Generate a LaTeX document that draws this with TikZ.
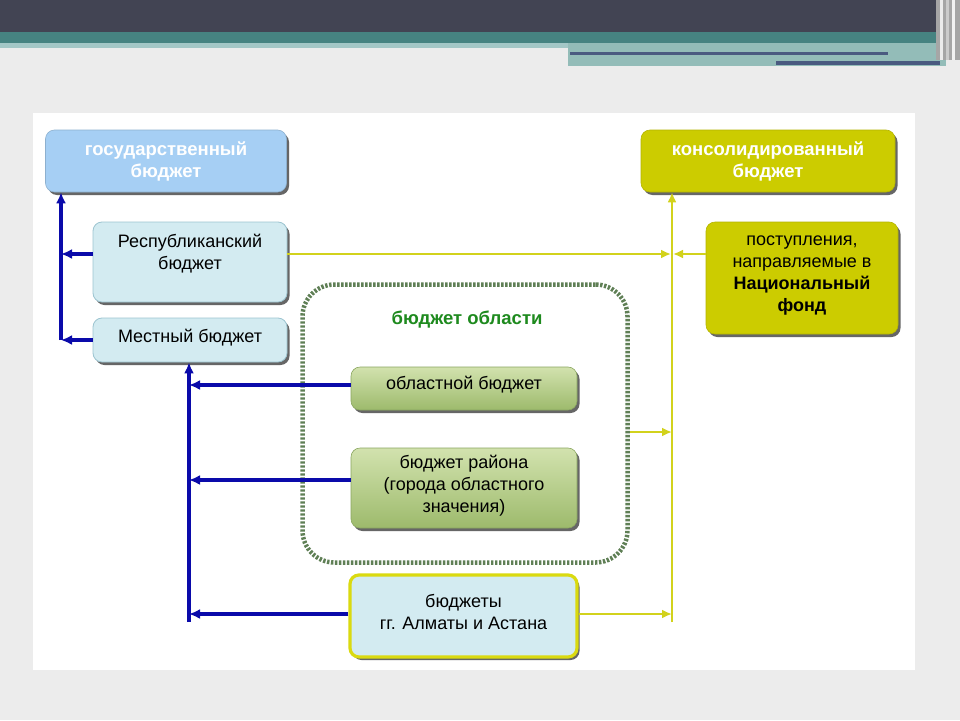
\documentclass[tikz,border=0pt]{standalone}
\usepackage{fontspec}
\setmainfont{Liberation Sans}
\usetikzlibrary{arrows.meta,shadows}
\definecolor{topdark}{HTML}{424453}
\definecolor{teal1}{HTML}{468381}
\definecolor{teal2}{HTML}{A3C7C6}
\definecolor{teal3}{HTML}{93BCB8}
\definecolor{navyline}{HTML}{4A5A80}
\definecolor{bgdot}{HTML}{ECECEC}
\definecolor{gosblue}{HTML}{A6CFF4}
\definecolor{lightcyan}{HTML}{D3EBF1}
\definecolor{cyanedge}{HTML}{9CC4D0}
\definecolor{olive}{HTML}{CCCC00}
\definecolor{oliveedge}{HTML}{B5B500}
\definecolor{yline}{HTML}{D2D21C}
\definecolor{bline}{HTML}{0A0AAA}
\definecolor{gtop}{HTML}{D2E2AE}
\definecolor{gbot}{HTML}{9DBA6C}
\definecolor{gedge}{HTML}{8AA660}
\definecolor{dotgreen}{HTML}{5F7F55}
\definecolor{titlegreen}{HTML}{1E8A1E}
\definecolor{almborder}{HTML}{DADA10}
\begin{document}
\begin{tikzpicture}[x=1pt,y=-1pt,
  txt/.style={font=\fontsize{18}{22}\selectfont, align=center},
  boxbase/.style={rounded corners=9pt, inner sep=0pt,
    drop shadow={shadow xshift=2.5pt, shadow yshift=-3pt, fill=black!75, opacity=0.8}},
  headblue/.style={boxbase, fill=gosblue, draw=gosblue!85!black, line width=0.6pt,
    text=white, font=\fontsize{18.5}{22}\selectfont\bfseries, align=center},
  headolive/.style={boxbase, fill=olive, draw=oliveedge, line width=0.6pt,
    text=white, font=\fontsize{18.5}{22}\selectfont\bfseries, align=center},
  cyanbox/.style={boxbase, fill=lightcyan, draw=cyanedge, line width=0.8pt},
  olivebox/.style={boxbase, fill=olive, draw=oliveedge, line width=0.6pt},
  greenbox/.style={boxbase, top color=gtop, bottom color=gbot, draw=gedge, line width=0.6pt},
  almbox/.style={boxbase, fill=lightcyan, draw=almborder, line width=3.2pt},
  blueline/.style={draw=bline, line width=3.6pt, -{Latex[length=11pt,width=10pt]}},
  yellowline/.style={draw=yline, line width=2.8pt, -{Latex[length=10pt,width=9pt]}},
]
\useasboundingbox (0,0) rectangle (960,720);
% background
\fill[bgdot] (0,0) rectangle (960,720);
\fill[white] (33,113) rectangle (915,670);
% top bands
\fill[topdark] (0,0) rectangle (936,32);
\fill[teal1] (0,32) rectangle (936,44);
\fill[teal2] (0,43) rectangle (568,48);
\fill[teal3] (568,43) rectangle (946,66);
\fill[navyline] (570,51.5) rectangle (888,54.5);
\fill[navyline] (776,61) rectangle (940,65);
\fill[gray!70] (936,0) rectangle (960,60);
\fill[white!85!gray] (940,0) rectangle (943,60);
\fill[gray!40] (946,0) rectangle (949,60);
\fill[white!90!gray] (952,0) rectangle (955,60);

% region dotted box
\node (obl) [draw=dotgreen, line width=4.5pt, dash pattern=on 2.4pt off 1.6pt,
  rounded corners=32pt, minimum width=325pt, minimum height=278pt, inner sep=0pt]
  at (465,423.5) {};
\node (obltitle) [font=\fontsize{18.5}{22}\selectfont\bfseries, text=titlegreen] at (467,320) {бюджет области};

% boxes
\node (gos) [headblue, minimum width=241pt, minimum height=62pt] at (166,161) {государственный\\бюджет};
\node (kons) [headolive, minimum width=254pt, minimum height=62pt] at (768,161) {консолидированный\\бюджет};
\node (resp) [cyanbox, minimum width=194pt, minimum height=80pt] at (190,262) {};
\node (resptext) [txt] at (190,254) {Республиканский\\бюджет};
\node (mest) [cyanbox, minimum width=194pt, minimum height=44pt] at (190,340) {};
\node (mesttext) [txt] at (190,338) {Местный бюджет};
\node (post) [olivebox, minimum width=192pt, minimum height=112pt] at (802,278) {};
\node (posttext) [txt] at (802,276) {поступления,\\направляемые в\\\textbf{Национальный}\\\textbf{фонд}};
\node (oblb) [greenbox, minimum width=226pt, minimum height=43pt] at (464,388.5) {};
\node (oblbtext) [txt] at (464,385) {областной бюджет};
\node (rayon) [greenbox, minimum width=226pt, minimum height=80pt] at (464,488) {};
\node (rayontext) [txt] at (464,486) {бюджет района\\(города областного\\значения)};
\node (alm) [almbox, minimum width=227pt, minimum height=82pt] at (463.5,616) {};
\node (almtext) [txt] at (463.5,612) {бюджеты\\гг. Алматы и Астана};

% blue connectors (left)
\coordinate (bt1) at (61,340);
\coordinate (bt2) at (189,622);
\draw[blueline] (bt1) -- (bt1 |- gos.south);
\draw[blueline] (resp.west |- resptext) -- (bt1 |- resptext);
\draw[blueline] (mest.west) -- (bt1 |- mest.west);
\draw[blueline] (bt2) -- (bt2 |- mest.south);
\draw[blueline] (oblb.west |- oblbtext) -- (bt2 |- oblbtext);
\draw[blueline] (rayon.west |- 0,480) -- (bt2 |- 0,480);
\draw[blueline] (alm.west |- 0,614) -- (bt2 |- 0,614);

% yellow connectors (right)
\coordinate (yt) at (672,622);
\draw[yellowline] (yt) -- (yt |- kons.south);
\draw[yellowline] (resp.east |- resptext) -- ([xshift=-1pt]yt |- resptext);
\draw[yellowline] (post.west |- resptext) -- ([xshift=1pt]yt |- resptext);
\draw[yellowline] (obl.east |- 0,432) -- (yt |- 0,432);
\draw[yellowline] (alm.east |- 0,614) -- (yt |- 0,614);
\end{tikzpicture}
\end{document}
